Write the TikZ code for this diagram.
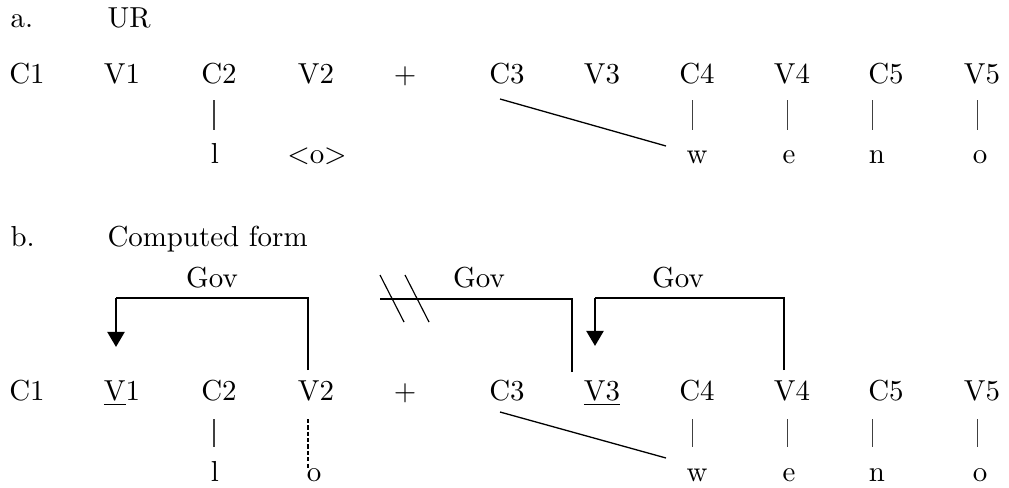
\documentclass[tikz,border=0pt]{standalone}
\usetikzlibrary{arrows.meta}
\begin{document}
\begin{tikzpicture}[x=0.346pt,y=-0.346pt,
  lab/.style={anchor=base,inner sep=0pt},
  labw/.style={anchor=base west,inner sep=0pt},
  ln/.style={line width=0.4pt},
  barln/.style={line width=0.35pt,black!75},
  assoc/.style={line width=0.45pt},
  govarrow/.style={line width=1pt,-{Triangle[width=5.8pt,length=5.2pt]}}]
\useasboundingbox (0,0) rectangle (1009,487);
% ---------------- a. UR
\node[labw] (alab) at (10,27) {a.};
\node[labw] (atitle) at (107,27) {UR};
\node[lab] (aC1) at (27,83) {C1};
\node[lab] (aV1) at (122,83) {V1};
\node[lab] (aC2) at (219,83) {C2};
\node[lab] (aV2) at (316,83) {V2};
\node[lab] (aplus) at (405,83) {$+$};
\node[lab] (aC3) at (507,83) {C3};
\node[lab] (aV3) at (602,83) {V3};
\node[lab] (aC4) at (697,83) {C4};
\node[lab] (aV4) at (792,83) {V4};
\node[lab] (aC5) at (886,83) {C5};
\node[lab] (aV5) at (982,83) {V5};
\node[lab] (al) at (215,163) {l};
\node[lab] (ao1) at (317,163) {$<$o$>$};
\node[lab] (aw) at (697,163) {w};
\node[lab] (ae) at (789,163) {e};
\node[lab] (an) at (877,163) {n};
\node[lab] (ao2) at (980,163) {o};
\coordinate (abC2) at (214,100);
\coordinate (abC4) at (692,100);
\coordinate (abV4) at (787,100);
\coordinate (abC5) at (872,100);
\coordinate (abV5) at (977,100);
\foreach \c in {abC2,abC4,abV4,abC5,abV5}
  \draw[barln] (\c) -- ++(0,30);
\coordinate (aC3s) at (500,99);
\coordinate (awe) at (666,146);
\draw[assoc] (aC3s) -- (awe);
% ---------------- b. Computed form
\node[labw] (blab) at (10,246) {b.};
\node[labw] (btitle) at (107,246) {Computed form};
\node[lab] (gov1) at (212,287) {Gov};
\node[lab] (gov2) at (479,287) {Gov};
\node[lab] (gov3) at (678,287) {Gov};
\node[lab] (bC1) at (27,400) {C1};
\node[lab] (bV1) at (122,400) {\underline{V}1};
\node[lab] (bC2) at (219,400) {C2};
\node[lab] (bV2) at (316,400) {V2};
\node[lab] (bplus) at (405,400) {$+$};
\node[lab] (bC3) at (507,400) {C3};
\node[lab] (bV3) at (602,400) {\underline{V3}};
\node[lab] (bC4) at (697,400) {C4};
\node[lab] (bV4) at (792,400) {V4};
\node[lab] (bC5) at (886,400) {C5};
\node[lab] (bV5) at (982,400) {V5};
\node[lab] (bl) at (215,481) {l};
\node[lab] (bo1) at (314,481) {o};
\node[lab] (bw) at (697,481) {w};
\node[lab] (be) at (789,481) {e};
\node[lab] (bn) at (877,481) {n};
\node[lab] (bo2) at (980,481) {o};
\coordinate (bbC2) at (214,419);
\coordinate (bbC4) at (692,419);
\coordinate (bbV4) at (787,419);
\coordinate (bbC5) at (872,419);
\coordinate (bbV5) at (977,419);
\foreach \c in {bbC2,bbC4,bbV4,bbC5,bbV5}
  \draw[barln] (\c) -- ++(0,28);
\coordinate (bV2d) at (308,419);
\coordinate (bo1d) at (308,468);
\draw[ln,dash pattern=on 1.5pt off 0.7pt] (bV2d) -- (bo1d);
\coordinate (bC3s) at (500,412);
\coordinate (bwe) at (666,458);
\draw[assoc] (bC3s) -- (bwe);
% government relations
\coordinate (g1a) at (308,370);
\coordinate (g1b) at (308,298);
\coordinate (g1c) at (116,298);
\coordinate (g1d) at (116,347);
\draw[ln] (g1a) -- (g1b) -- (g1c);
\draw[govarrow] (g1c) -- (g1d);
\coordinate (g2a) at (572,372);
\coordinate (g2b) at (572,299);
\coordinate (g2c) at (380,299);
\draw[ln] (g2a) -- (g2b) -- (g2c);
\coordinate (s1a) at (380,275);
\coordinate (s1b) at (404,322);
\coordinate (s2a) at (405,275);
\coordinate (s2b) at (429,322);
\draw[ln] (s1a) -- (s1b);
\draw[ln] (s2a) -- (s2b);
\coordinate (g3a) at (784,370);
\coordinate (g3b) at (784,298);
\coordinate (g3c) at (595,298);
\coordinate (g3d) at (595,346);
\draw[ln] (g3a) -- (g3b) -- (g3c);
\draw[govarrow] (g3c) -- (g3d);
\end{tikzpicture}
\end{document}
